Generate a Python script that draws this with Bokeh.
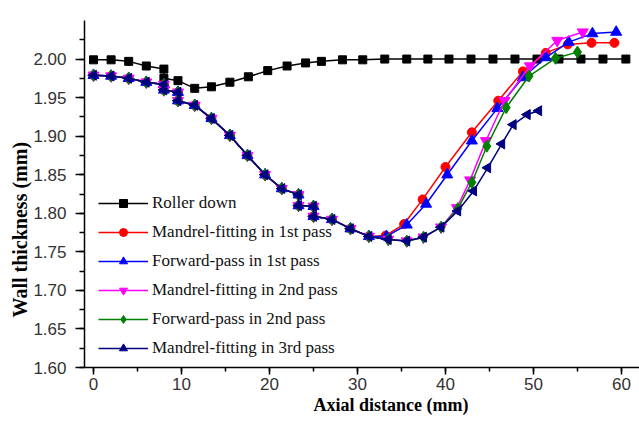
import math
from bokeh.plotting import figure
from bokeh.models import (Range1d, SingleIntervalTicker, NumeralTickFormatter,
                          Legend, LegendItem, Title)
from bokeh.embed import file_html
from bokeh.resources import INLINE

# ---------------- data ----------------
common_x = [0, 2, 4, 6, 8, 8, 9.6, 9.6, 11.5, 13.4, 15.5, 17.5, 19.5, 21.4,
            23.3, 23.3, 25.0, 25.0, 27.1, 29.2, 31.3]
common_y = [1.979, 1.978, 1.975, 1.970, 1.967, 1.960, 1.957, 1.946, 1.940,
            1.923, 1.901, 1.875, 1.850, 1.832, 1.824, 1.810, 1.809, 1.796,
            1.792, 1.780, 1.770]

roller_x = [0, 2, 4, 6, 8, 8, 9.6, 11.5, 13.4, 15.5, 17.6, 19.8, 22.0, 24.1,
            25.9, 28.3, 30.6, 33.1, 35.6, 38.0, 40.4, 42.9, 45.4, 47.9, 50.4,
            52.9, 55.4, 57.9, 60.5]
roller_y = [1.999, 1.999, 1.997, 1.991, 1.987, 1.975, 1.972, 1.962, 1.964,
            1.970, 1.977, 1.985, 1.991, 1.995, 1.997, 1.999, 1.999, 2.0, 2.0,
            2.0, 2.0, 2.0, 2.0, 2.0, 2.0, 2.0, 2.0, 2.0, 2.0]

mf1_tail_x = [33.2, 35.3, 37.4, 40.0, 43.0, 46.0, 48.8, 51.4, 53.9, 56.6, 59.2]
mf1_tail_y = [1.771, 1.786, 1.818, 1.860, 1.905, 1.946, 1.984, 2.008, 2.019,
              2.021, 2.021]

fp1_tail_x = [33.3, 35.6, 37.8, 40.2, 43.0, 45.9, 48.8, 51.4, 54.0, 56.7, 59.4]
fp1_tail_y = [1.770, 1.785, 1.812, 1.850, 1.894, 1.936, 1.976, 2.002, 2.022,
              2.033, 2.035]

mid_x = [33.5, 35.6, 37.5, 39.5]
mid_y = [1.766, 1.764, 1.769, 1.782]

mf2_tail_x = [41.3, 42.8, 44.6, 46.7, 49.6, 52.7, 55.6]
mf2_tail_y = [1.807, 1.843, 1.894, 1.946, 1.991, 2.024, 2.035]

fp2_tail_x = [41.4, 43.0, 44.7, 46.9, 49.5, 52.5, 55.0]
fp2_tail_y = [1.806, 1.840, 1.887, 1.937, 1.978, 2.001, 2.009]

mf3_tail_x = [41.4, 43.2, 44.8, 46.4, 47.7, 49.3, 50.6]
mf3_tail_y = [1.803, 1.829, 1.859, 1.890, 1.915, 1.928, 1.933]

x_ticks_interval = 10
y_ticks_interval = 0.05

series = [
    ("Roller down", roller_x, roller_y, "black", "square", 0, 8),
    ("Mandrel-fitting in 1st pass", common_x + mf1_tail_x, common_y + mf1_tail_y,
     "#ff0000", "circle", 0, 9),
    ("Forward-pass in 1st pass", common_x + fp1_tail_x, common_y + fp1_tail_y,
     "#0000ff", "triangle", 0, 11),
    ("Mandrel-fitting in 2nd pass", common_x + mid_x + mf2_tail_x,
     common_y + mid_y + mf2_tail_y, "#ff00ff", "inverted_triangle", 0, 11),
    ("Forward-pass in 2nd pass", common_x + mid_x + fp2_tail_x,
     common_y + mid_y + fp2_tail_y, "#008000", "diamond", 0, 12),
    ("Mandrel-fitting in 3rd pass", common_x + mid_x + mf3_tail_x,
     common_y + mid_y + mf3_tail_y, "#000080", "triangle", math.pi / 2, 10),
]

# ---------------- figure ----------------
W, H = 639, 423
p = figure(width=W, height=H, output_backend="svg", toolbar_location=None,
           x_range=Range1d(-1.023, 62.05), y_range=Range1d(1.60, 2.05),
           min_border_left=84, min_border_right=0, min_border_top=20,
           min_border_bottom=56)
p.outline_line_color = None
p.xgrid.visible = False
p.ygrid.visible = False
p.background_fill_color = "white"
p.border_fill_color = "white"

tick_font = "Liberation Sans"
for ax in (p.xaxis[0], p.yaxis[0]):
    ax.axis_line_color = "black"
    ax.axis_line_width = 1.5
    ax.major_tick_line_color = "black"
    ax.major_tick_line_width = 1.5
    ax.minor_tick_line_color = "black"
    ax.minor_tick_line_width = 1.5
    ax.major_tick_in = 0
    ax.minor_tick_in = 0
    ax.major_label_text_font = tick_font
    ax.major_label_text_font_size = "17px"
    ax.major_label_text_color = "#333333"

p.xaxis[0].ticker = SingleIntervalTicker(interval=x_ticks_interval, num_minor_ticks=2)
p.yaxis[0].ticker = SingleIntervalTicker(interval=y_ticks_interval, num_minor_ticks=2)
p.yaxis[0].formatter = NumeralTickFormatter(format="0.00")
p.xaxis[0].major_tick_out = 7
p.xaxis[0].minor_tick_out = 4
p.xaxis[0].major_label_standoff = 3
p.yaxis[0].major_tick_out = 9
p.yaxis[0].minor_tick_out = 5
p.yaxis[0].major_label_standoff = 9

items = []
for name, xs, ys, color, marker, ang, size in series:
    r_line = p.line(xs, ys, line_color=color, line_width=1.5)
    r_mk = p.scatter(xs, ys, marker=marker, size=size, angle=ang,
                     fill_color=color, line_color=color)
    items.append(LegendItem(label=name, renderers=[r_line, r_mk]))

legend = Legend(items=items, location=(14, 9), border_line_color=None,
                background_fill_alpha=0, padding=0, margin=0, spacing=9,
                glyph_width=50, glyph_height=20, label_height=20,
                label_standoff=4,
                label_text_font="Liberation Serif", label_text_font_size="17px",
                label_text_color="#111111")
p.add_layout(legend)

# axis titles
xt = Title(text="Axial distance (mm)", align="right", offset=171, standoff=0,
           text_font="Liberation Serif", text_font_style="bold",
           text_font_size="18px", text_color="black")
yt = Title(text="Wall thickness (mm)", align="left", offset=50, standoff=0,
           text_font="Liberation Serif", text_font_style="bold",
           text_font_size="20px", text_color="black")
p.add_layout(xt, "below")
p.add_layout(yt, "left")

open("out.html", "w").write(file_html(p, INLINE))
